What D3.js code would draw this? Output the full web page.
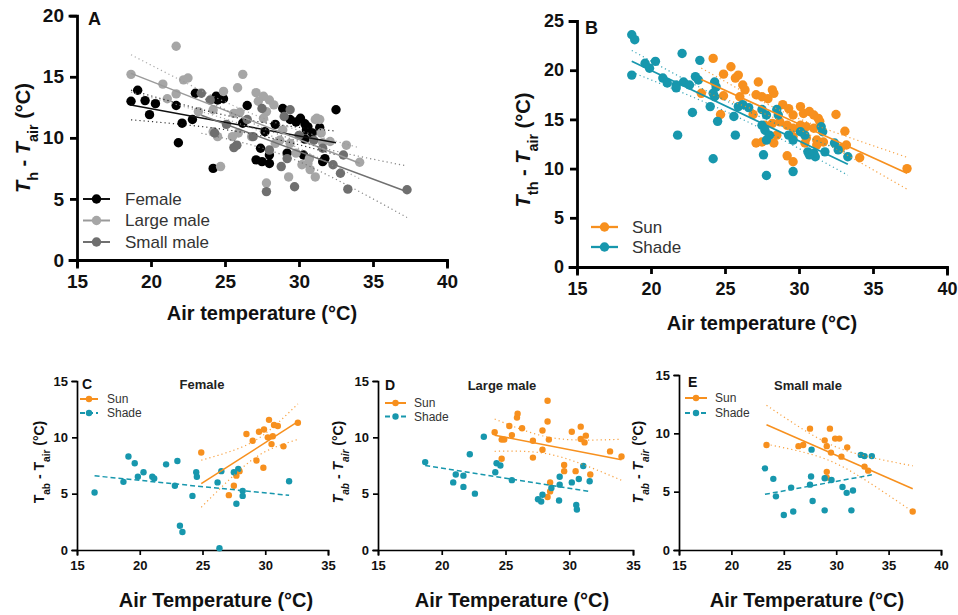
<!DOCTYPE html>
<html>
<head>
<meta charset="utf-8">
<script src="https://cdn.jsdelivr.net/npm/d3@7"></script>
<style>
  body { margin: 0; background: #fff; }
  text { font-family: "Liberation Sans", Arial, sans-serif; }
</style>
</head>
<body>
<svg id="chart" width="958" height="615"></svg>
<script>
// ---- data: [air temperature, difference] ----
const femaleA = [[18.65,13.0],[19.1,13.9],[19.6,13.05],[20.3,12.8],[19.9,11.9],[21.7,12.65],[21.85,9.6],[22.1,11.2],[22.8,11.5],[23.0,13.65],[24.4,13.4],[24.9,13.2],[24.5,13.1],[24.2,7.5],[26.5,12.65],[26.2,11.2],[27.7,10.5],[28.4,11.1],[28.9,12.4],[29.2,8.75],[27.4,9.15],[27.1,8.2],[27.5,8.05],[28.0,7.9],[28.0,8.6],[29.4,11.5],[29.8,11.3],[30.1,11.6],[30.4,11.15],[30.5,10.65],[30.9,10.4],[30.6,10.9],[31.4,10.85],[30.4,9.9],[30.3,8.6],[31.75,8.3],[32.5,12.3],[31.6,8.05]];
const largeMaleA = [[21.7,17.5],[18.65,15.2],[20.8,14.4],[22.2,14.75],[22.5,14.9],[21.1,13.2],[21.7,13.6],[26.2,15.2],[25.85,14.1],[24.9,13.8],[25.6,12.0],[26.0,12.1],[27.1,13.7],[27.6,13.4],[28.0,13.1],[28.3,12.7],[27.25,13.0],[27.8,12.15],[31.1,11.5],[31.4,11.5],[33.2,9.4],[34.1,8.0],[30.2,7.8],[30.6,7.9],[30.75,7.4],[31.1,6.8],[29.3,6.8],[27.8,6.3],[24.7,7.65],[28.4,9.55],[28.7,9.8],[24.2,10.5],[24.5,10.1],[26.8,10.1],[24.2,12.3],[23.2,12.15],[27.6,11.6],[28.9,10.65],[29.4,9.55],[29.8,8.75],[30.7,8.3],[31.6,9.6],[32.1,9.7],[31.5,10.4],[31.2,11.6],[25.5,10.1],[25.9,10.4]];
const smallMaleA = [[23.4,13.65],[24.0,13.1],[25.1,11.1],[25.8,9.4],[25.6,9.2],[24.3,10.4],[26.9,10.1],[27.5,12.4],[29.0,11.75],[29.4,12.3],[29.2,8.3],[28.8,7.65],[29.7,6.0],[27.8,5.6],[32.3,7.8],[32.8,7.1],[33.3,5.8],[33.0,8.6],[31.6,9.15],[37.3,5.75],[28.0,9.0],[30.0,10.2],[31.0,9.8],[26.5,11.5]];

const shadeB = [[18.7,23.6],[18.9,23.1],[18.7,19.5],[19.6,20.7],[19.9,20.2],[20.3,20.9],[22.1,21.7],[23.3,21.0],[20.8,19.2],[21.1,18.7],[21.7,18.5],[21.7,18.2],[22.2,18.8],[22.6,18.5],[23.0,19.35],[23.2,19.0],[24.3,18.8],[24.4,18.3],[24.2,17.65],[24.3,17.3],[24.0,16.3],[22.8,15.7],[24.5,14.8],[21.8,13.4],[25.7,13.4],[25.6,15.3],[24.2,11.0],[25.9,16.3],[26.2,16.5],[26.6,16.2],[27.5,16.0],[27.8,15.45],[28.5,16.0],[28.6,15.45],[27.5,14.4],[27.7,13.9],[28.0,13.4],[27.8,12.9],[27.6,11.4],[27.8,9.3],[29.6,9.7],[29.3,13.4],[29.6,12.9],[30.1,13.75],[30.4,13.4],[31.5,14.25],[31.6,13.75],[30.6,11.7],[31.0,11.55],[31.1,11.2],[30.7,11.4],[31.75,11.7],[32.4,12.6],[32.65,11.9],[33.3,11.2]];
const sunB = [[24.2,21.2],[25.4,20.35],[24.9,19.6],[25.7,19.2],[25.9,19.5],[26.2,18.5],[26.35,18.0],[23.4,17.65],[24.9,17.4],[26.0,17.3],[27.25,18.8],[27.1,17.5],[27.5,17.3],[27.9,17.1],[28.2,18.0],[28.3,17.65],[24.7,15.5],[26.9,15.5],[28.9,16.5],[29.3,16.1],[29.6,15.45],[30.1,16.3],[30.3,15.6],[30.7,15.8],[31.0,15.45],[31.3,15.1],[31.4,14.8],[32.5,15.5],[27.7,14.4],[28.2,14.6],[28.7,14.75],[29.2,14.4],[29.6,14.1],[30.1,14.4],[30.5,14.25],[31.0,14.1],[28.5,13.4],[29.6,13.25],[30.5,13.1],[31.2,12.9],[31.65,12.7],[27.1,12.6],[27.5,12.7],[28.3,12.6],[29.2,11.3],[29.6,10.7],[30.4,12.6],[31.2,12.4],[33.1,13.8],[33.2,12.4],[32.8,12.05],[34.1,11.1],[37.3,10.0]];

const sunC = [[24.9,8.65],[27.1,4.87],[27.5,5.7],[27.7,6.6],[27.95,7.0],[28.5,10.3],[29.0,9.7],[29.3,7.95],[29.5,10.5],[29.85,7.3],[29.9,10.7],[30.3,11.55],[30.2,10.0],[30.6,10.1],[30.5,9.4],[30.7,11.1],[31.0,11.0],[31.45,9.2],[32.6,11.3]];
const shadeC = [[16.4,5.1],[18.7,6.05],[19.1,8.3],[19.6,7.7],[19.85,6.5],[20.3,6.9],[21.0,6.5],[21.15,6.35],[22.1,7.6],[22.8,5.7],[23.0,7.9],[23.2,2.15],[23.4,1.6],[24.2,4.8],[24.5,6.9],[24.55,6.5],[26.2,6.0],[26.35,0.15],[26.5,7.0],[27.5,6.9],[27.85,7.2],[27.7,4.1],[28.2,5.25],[28.2,4.8],[31.9,6.1]];

const sunD = [[24.15,10.45],[24.7,9.8],[24.9,9.8],[24.7,8.1],[25.3,11.0],[25.5,10.2],[25.9,11.75],[25.95,12.1],[26.3,10.8],[27.15,9.7],[27.15,8.2],[27.9,8.9],[27.9,10.6],[28.3,13.25],[28.3,11.4],[28.4,9.8],[28.5,6.0],[28.5,5.2],[28.3,4.7],[29.6,7.55],[29.6,7.0],[30.2,10.5],[30.5,7.0],[30.9,10.95],[30.9,9.85],[31.2,9.55],[31.3,10.15],[31.65,6.7],[33.2,8.75],[34.1,8.3]];
const shadeD = [[18.7,7.8],[20.9,6.0],[21.1,6.7],[21.7,6.6],[21.7,5.6],[22.2,8.5],[22.6,5.0],[23.3,10.05],[24.2,6.9],[24.3,7.7],[24.6,7.5],[25.5,6.2],[27.55,4.5],[27.8,4.3],[27.9,4.9],[28.6,5.5],[29.2,4.4],[29.25,6.5],[29.25,5.8],[30.2,6.0],[30.55,4.0],[30.6,3.6],[30.75,6.3],[31.1,7.45],[31.6,6.1]];

const sunE = [[23.35,9.0],[26.4,8.9],[26.85,9.0],[27.5,10.4],[28.9,9.4],[29.1,8.9],[29.4,10.4],[29.5,8.35],[29.9,9.55],[30.3,9.55],[29.1,6.7],[29.1,6.2],[30.5,8.0],[31.05,8.8],[32.7,7.15],[33.05,6.8],[37.3,3.3]];
const shadeE = [[23.2,7.0],[24.0,6.1],[24.25,4.6],[25.0,3.0],[25.7,5.35],[25.9,3.3],[27.5,5.6],[27.6,6.3],[27.65,8.6],[27.75,4.2],[28.9,6.15],[29.55,6.0],[28.9,3.4],[30.6,5.4],[31.0,4.9],[31.6,5.1],[31.45,3.4],[32.35,8.15],[32.7,8.05],[33.4,8.05]];

const xTicksTop = [15, 20, 25, 30, 35, 40];
const yTicksA = [0, 5, 10, 15, 20];
const yTicksB = [0, 5, 10, 15, 20, 25];
const xTicksCD = [15, 20, 25, 30, 35];
const yTicksLow = [0, 5, 10, 15];

const ORANGE = '#F7901E', TEAL = '#1797AD';

const svg = d3.select('#chart');

// least squares fit with 95% confidence band of the mean
function fit(pts) {
  const n = pts.length;
  const mx = d3.mean(pts, d => d[0]), my = d3.mean(pts, d => d[1]);
  const sxx = d3.sum(pts, d => (d[0] - mx) ** 2);
  const sxy = d3.sum(pts, d => (d[0] - mx) * (d[1] - my));
  const b = sxy / sxx, a = my - b * mx;
  const s = Math.sqrt(d3.sum(pts, d => (d[1] - a - b * d[0]) ** 2) / (n - 2));
  const df = n - 2;
  const tc = 1.96 + 2.37 / df + 2.8 / (df * df);
  const [x0, x1] = d3.extent(pts, d => d[0]);
  const xs = d3.range(41).map(i => x0 + i * (x1 - x0) / 40);
  const half = x => tc * s * Math.sqrt(1 / n + (x - mx) ** 2 / sxx);
  return {
    line: [[x0, a + b * x0], [x1, a + b * x1]],
    lo: xs.map(x => [x, a + b * x - half(x)]),
    hi: xs.map(x => [x, a + b * x + half(x)])
  };
}

function panel(o) {
  const g = svg.append('g');
  const x = d3.scaleLinear().domain(o.xDomain).range(o.xRange);
  const y = d3.scaleLinear().domain(o.yDomain).range(o.yRange);

  const xa = g.append('g')
    .attr('transform', `translate(0,${o.yRange[0]})`)
    .call(d3.axisBottom(x).tickValues(o.xTicks).tickSizeOuter(0).tickSize(o.tick).tickPadding(o.pad));
  const ya = g.append('g')
    .attr('transform', `translate(${o.xRange[0]},0)`)
    .call(d3.axisLeft(y).tickValues(o.yTicks).tickSizeOuter(0).tickSize(o.tick).tickPadding(o.pad - 2));
  [xa, ya].forEach(a => {
    a.select('.domain').attr('stroke', '#000').attr('stroke-width', o.axisW).attr('stroke-linecap', 'square');
    a.selectAll('.tick line').attr('stroke', '#000').attr('stroke-width', o.axisW);
    a.selectAll('.tick text').attr('fill', '#111').style('font-size', o.tickFont + 'px').style('font-weight', 'bold')
      .style('font-family', '"Liberation Sans", Arial, sans-serif');
  });

  const line = d3.line().x(d => x(d[0])).y(d => y(d[1]));

  o.series.forEach(s => {
    g.append('g').selectAll('circle')
      .data(s.data)
      .enter()
      .append('circle')
      .attr('cx', d => x(d[0]))
      .attr('cy', d => y(d[1]))
      .attr('r', o.r)
      .attr('fill', s.color);
  });
  o.series.forEach(s => {
    const f = fit(s.data);
    if (s.ci !== false) {
      [f.lo, f.hi].forEach(band => {
        g.append('path').attr('d', line(band)).attr('fill', 'none')
          .attr('stroke', s.lineColor || s.color).attr('stroke-width', 1.2)
          .attr('stroke-dasharray', '1.2,3').attr('opacity', 0.85);
      });
    }
    g.append('path').attr('d', line(f.line)).attr('fill', 'none')
      .attr('stroke', s.lineColor || s.color).attr('stroke-width', o.fitW)
      .attr('stroke-dasharray', s.dash || null);
  });

  // panel letter and title
  g.append('text').attr('x', o.letter[0]).attr('y', o.letter[1]).text(o.letter[2])
    .style('font-size', o.letter[3] + 'px').style('font-weight', 'bold').attr('fill', '#111');
  if (o.title) {
    g.append('text').attr('x', o.title[0]).attr('y', o.title[1]).attr('text-anchor', 'middle')
      .text(o.title[2]).style('font-size', '13px').style('font-weight', 'bold').attr('fill', '#222');
  }

  // x axis title
  g.append('text').attr('x', o.xTitle[0]).attr('y', o.xTitle[1]).attr('text-anchor', 'middle')
    .text(o.xTitle[2]).style('font-size', '20px').style('font-weight', 'bold').attr('fill', '#111');

  // y axis title with subscripts
  const yt = g.append('text')
    .attr('transform', `translate(${o.yTitle[0]},${o.yTitle[1]}) rotate(-90)`)
    .attr('text-anchor', 'middle')
    .style('font-size', o.yTitle[2] + 'px').style('font-weight', 'bold').attr('fill', '#111');
  const it = o.yTitle[4] ? 'italic' : 'normal';
  const subIt = o.yTitle[5] ? 'italic' : 'normal';
  yt.append('tspan').text('T').style('font-style', it);
  yt.append('tspan').text(o.yTitle[3]).attr('baseline-shift', 'sub').style('font-size', '0.72em').style('font-style', subIt);
  yt.append('tspan').text(' - ');
  yt.append('tspan').text('T').style('font-style', it);
  yt.append('tspan').text('air').attr('baseline-shift', 'sub').style('font-size', '0.72em').style('font-style', subIt);
  yt.append('tspan').text(' (°C)');

  // legend
  o.series.forEach((s, i) => {
    const ly = o.legend.y + i * o.legend.dy;
    g.append('line').attr('x1', o.legend.x).attr('x2', o.legend.x + o.legend.w)
      .attr('y1', ly).attr('y2', ly).attr('stroke', s.lineColor || s.color).attr('stroke-width', o.fitW + 0.5)
      .attr('stroke-dasharray', s.dash || null);
    g.append('circle').attr('cx', o.legend.x + o.legend.w / 2).attr('cy', ly).attr('r', o.r).attr('fill', s.color);
    g.append('text').attr('x', o.legend.x + o.legend.w + o.legend.gap).attr('y', ly).attr('dy', '0.35em')
      .text(s.name).style('font-size', o.legend.font + 'px').attr('fill', '#333');
  });
}

// A
panel({
  xDomain: [15, 40], xRange: [77, 447], yDomain: [0, 20], yRange: [260, 15.7],
  xTicks: xTicksTop, yTicks: yTicksA, tick: 7, pad: 8, axisW: 2.8, tickFont: 19, r: 4.7, fitW: 1.5,
  series: [
    { name: 'Female', data: femaleA, color: '#000', lineColor: '#111' },
    { name: 'Large male', data: largeMaleA, color: '#A6A6A6', lineColor: '#9A9A9A' },
    { name: 'Small male', data: smallMaleA, color: '#6F6F6F', lineColor: '#707070' }
  ],
  letter: [88, 25, 'A', 18], xTitle: [262, 320, 'Air temperature (°C)'],
  yTitle: [30, 138, 20, 'h', true, false],
  legend: { x: 83, y: 199, dy: 21.5, w: 27, gap: 15, font: 17 }
});

// B
panel({
  xDomain: [15, 40], xRange: [577, 947], yDomain: [0, 25], yRange: [267, 21],
  xTicks: xTicksTop, yTicks: yTicksB, tick: 7, pad: 8, axisW: 2.8, tickFont: 18, r: 4.7, fitW: 1.8,
  series: [
    { name: 'Sun', data: sunB, color: ORANGE },
    { name: 'Shade', data: shadeB, color: TEAL }
  ],
  letter: [585, 34, 'B', 18], xTitle: [762, 330, 'Air temperature (°C)'],
  yTitle: [530, 150, 20, 'th', true, false],
  legend: { x: 591, y: 227, dy: 20, w: 27, gap: 14, font: 17 }
});

// C
panel({
  xDomain: [15, 35], xRange: [77, 328], yDomain: [0, 15], yRange: [550, 381],
  xTicks: xTicksCD, yTicks: yTicksLow, tick: 5, pad: 6, axisW: 1.7, tickFont: 13, r: 3.2, fitW: 1.5,
  series: [
    { name: 'Sun', data: sunC, color: ORANGE },
    { name: 'Shade', data: shadeC, color: TEAL, dash: '5,3', ci: false }
  ],
  letter: [82, 389, 'C', 14], title: [202, 389, 'Female'], xTitle: [216, 607, 'Air Temperature (°C)'],
  yTitle: [44, 462, 14, 'ab', false, false],
  legend: { x: 80, y: 399, dy: 14, w: 18, gap: 9, font: 12 }
});

// D
panel({
  xDomain: [15, 35], xRange: [378, 633], yDomain: [0, 15], yRange: [550, 381],
  xTicks: xTicksCD, yTicks: yTicksLow, tick: 5, pad: 6, axisW: 1.7, tickFont: 13, r: 3.2, fitW: 1.5,
  series: [
    { name: 'Sun', data: sunD, color: ORANGE },
    { name: 'Shade', data: shadeD, color: TEAL, dash: '5,3', ci: false }
  ],
  letter: [385, 390, 'D', 14], title: [502, 390, 'Large male'], xTitle: [512, 607, 'Air Temperature (°C)'],
  yTitle: [343, 462, 14, 'ab', true, true],
  legend: { x: 385, y: 403, dy: 13.5, w: 21, gap: 8, font: 12 }
});

// E
panel({
  xDomain: [15, 40], xRange: [679, 941], yDomain: [0, 15], yRange: [550, 375],
  xTicks: xTicksTop, yTicks: yTicksLow, tick: 5, pad: 6, axisW: 1.7, tickFont: 13, r: 3.2, fitW: 1.5,
  series: [
    { name: 'Sun', data: sunE, color: ORANGE },
    { name: 'Shade', data: shadeE, color: TEAL, dash: '5,3', ci: false }
  ],
  letter: [688, 387, 'E', 14], title: [808, 390, 'Small male'], xTitle: [807, 607, 'Air Temperature (°C)'],
  yTitle: [643, 462, 14, 'ab', true, true],
  legend: { x: 685, y: 398, dy: 15, w: 22, gap: 8, font: 12 }
});
</script>
</body>
</html>
